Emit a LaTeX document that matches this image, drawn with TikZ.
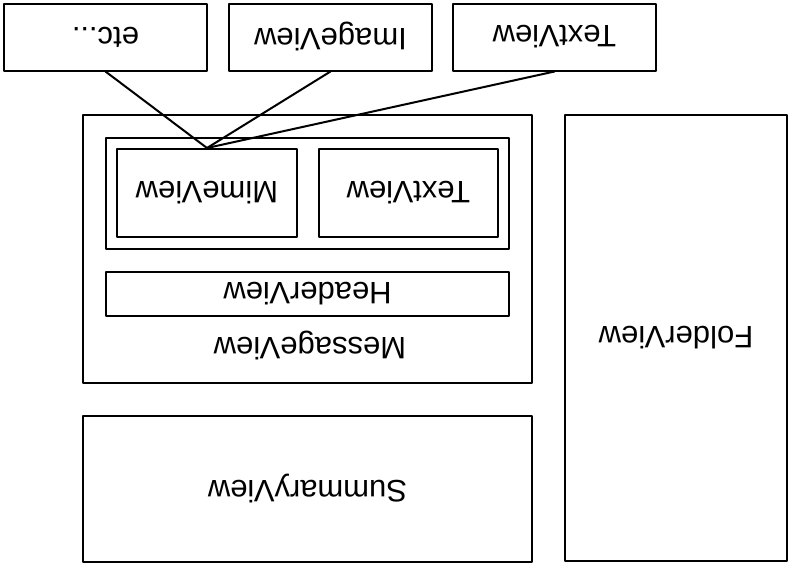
\documentclass[tikz,border=0pt]{standalone}
\usepackage{fontspec}
\setmainfont{Liberation Sans}
\newcommand\etclabel{etc...}
\begin{document}
\begin{tikzpicture}[
	x=0.5pt,
	y=-0.5pt,
	line cap=round,
	line join=round,
	every node/.style={align=center},
	view/.style 2 args={
		shape=rectangle,
		draw,
		line width=1pt,
		inner sep=0pt,
		rotate=180,
		minimum width=#1*0.5pt,
		minimum height=#2*0.5pt,
		font=\fontsize{15.5}{18}\selectfont
	},
	label/.style={
		rotate=180,
		inner sep=0pt,
		font=\fontsize{15.5}{18}\selectfont
	},
	link/.style={line width=1pt}
	]
	\useasboundingbox (0,0) rectangle (789,569);
	% top row of views
	\foreach \name/\txt/\x in {etc/\etclabel/105.5, image/ImageView/330.5, text/TextView/554.5}{
		\node [view={203}{67}] (\name) at (\x,37) {\txt};
	}
	% message view and what it holds
	\node [view={449}{268}] (message) at (307.5,249) {};
	\node [label] (messagelabel) at (310,346) {MessageView};
	\node [view={403}{111}] (body) at (307.5,193.5) {};
	\node [view={180}{88}] (mime) at (207,193) {MimeView};
	\node [view={179}{88}] (plain) at (408.5,193) {TextView};
	\node [view={403}{44}] (header) at (307.5,294) {HeaderView};
	% the other panes
	\node [view={449}{146}] (summary) at (307.5,489) {SummaryView};
	\node [view={222}{446}] (folder) at (676,338) {FolderView};
	% connectors
	\foreach \name in {etc, image, text}{
		\draw [link] (mime.south) -- (\name.north);
	}
\end{tikzpicture}
\end{document}
